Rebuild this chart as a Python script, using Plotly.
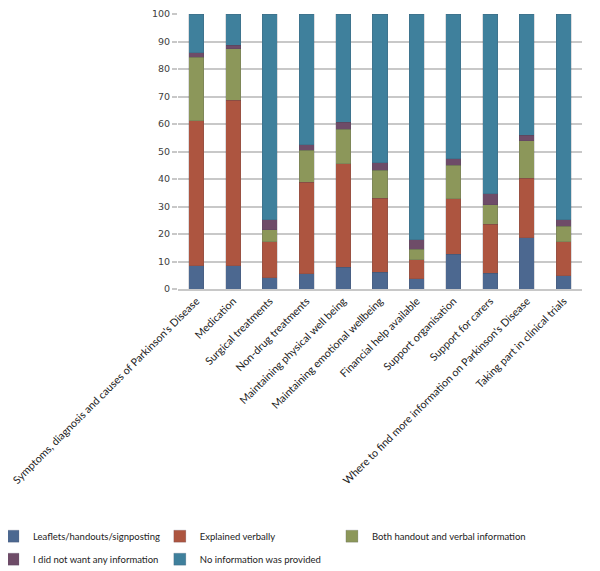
import plotly.graph_objects as go

categories = [
    "Symptoms, diagnosis and causes of Parkinson's Disease",
    "Medication",
    "Surgical treatments",
    "Non-drug treatments",
    "Maintaining physical well being",
    "Maintaining emotional wellbeing",
    "Financial help available",
    "Support organisation",
    "Support for carers",
    "Where to find more information on Parkinson's Disease",
    "Taking part in clinical trials",
]

leaflets = [8.4, 8.4, 4.1, 5.6, 7.9, 6.1, 3.8, 12.7, 5.8, 18.7, 4.9]
verbally = [52.7, 60.3, 13.1, 33.3, 37.7, 26.9, 6.8, 20.2, 17.7, 21.6, 12.3]
both = [23.1, 18.6, 4.4, 11.6, 12.5, 10.1, 3.8, 12.1, 7.2, 13.6, 5.6]
not_wanted = [1.8, 1.4, 3.5, 2.0, 2.5, 2.8, 3.5, 2.3, 4.0, 2.0, 2.4]
no_info = [14.0, 11.3, 74.9, 47.5, 39.4, 54.1, 82.1, 52.7, 65.3, 44.1, 74.8]

series_names = [
    "Leaflets/handouts/signposting",
    "Explained verbally",
    "Both handout and verbal information",
    "I did not want any information",
    "No information was provided",
]
series_values = [leaflets, verbally, both, not_wanted, no_info]
colors = ["#4c6890", "#ad5540", "#8c975a", "#6e4c68", "#3f809c"]
legend_slots = ["legend", "legend2", "legend3", "legend", "legend2"]

fig = go.Figure()
for i, (name, vals, col, lg) in enumerate(zip(series_names, series_values, colors, legend_slots)):
    fig.add_trace(go.Bar(
        x=categories, y=vals, name=name, legend=lg, legendgroup=f"g{i}",
        marker=dict(color=col, line=dict(color="rgba(60,60,80,0.35)", width=0.5)),
    ))

leg_common = dict(
    orientation="v",
    yanchor="top", y=-0.846,
    xanchor="left",
    font=dict(family="Lato", size=9.5, color="#222222"),
    itemwidth=30,
    tracegroupgap=4,
    traceorder="grouped",
    bgcolor="rgba(0,0,0,0)",
)

fig.update_layout(
    barmode="stack",
    bargap=0.59,
    width=600, height=571,
    margin=dict(l=170, r=26, t=6, b=290, autoexpand=False),
    plot_bgcolor="white",
    paper_bgcolor="white",
    font=dict(family="Lato", size=11, color="#222222"),
    legend=dict(leg_common, x=-0.458),
    legend2=dict(leg_common, x=-0.045),
    legend3=dict(leg_common, x=0.381),
)
fig.update_yaxes(
    range=[0, 100], dtick=10, automargin=False, ticklabeloverflow="allow",
    showgrid=True, gridcolor="#c8c8c8", gridwidth=1.5,
    ticks="outside", ticklen=5, tickcolor="#c8c8c8", tickwidth=1.5,
    tickfont=dict(family="DejaVu Sans", size=9.5, color="#404040"),
    showline=False, zeroline=False,
)
fig.update_xaxes(
    tickangle=-45, automargin=False, ticklabeloverflow="allow",
    tickfont=dict(family="Lato", size=10.7, color="#222222"),
    showline=True, linecolor="#c8c8c8", linewidth=1.5,
    ticks="",
)

fig.write_html("out.html")
